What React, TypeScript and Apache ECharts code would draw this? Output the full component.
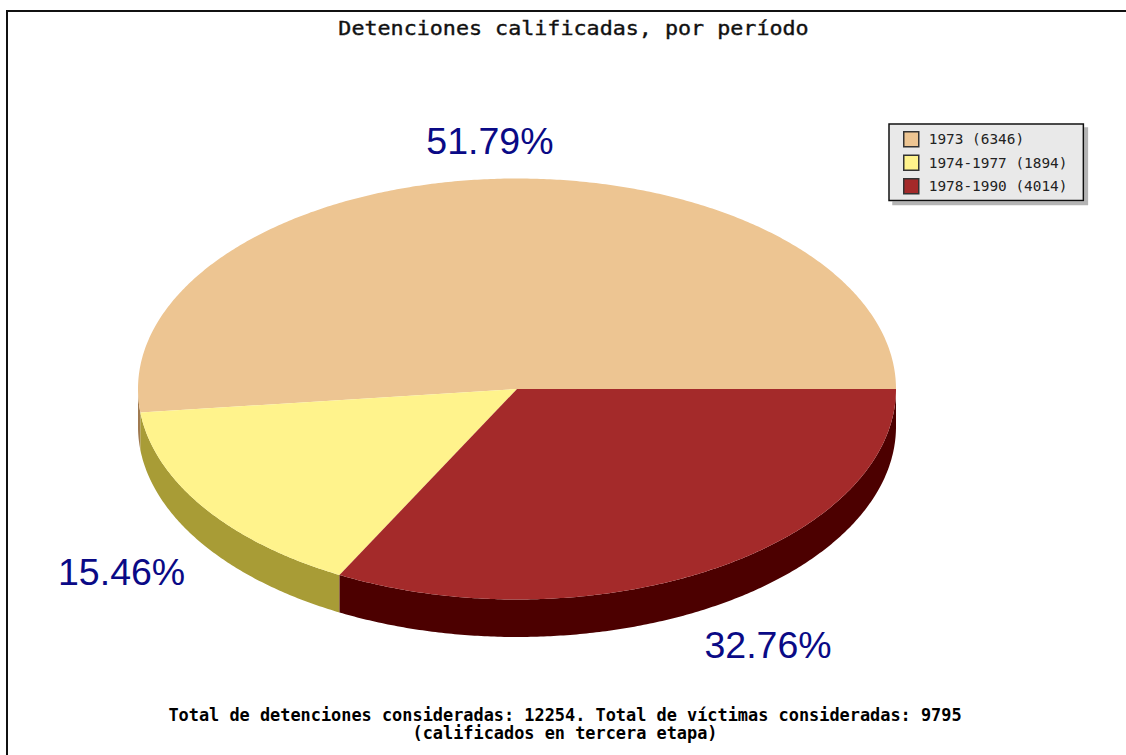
import React, { useEffect, useRef } from "react";
import * as echarts from "echarts";

const titleText = "Detenciones calificadas, por período";
const footerLines = [
  "Total de detenciones consideradas: 12254. Total de víctimas consideradas: 9795",
  "(calificados en tercera etapa)",
];
const periods = ["1973", "1974-1977", "1978-1990"];
const detentions = [6346, 1894, 4014];
const topColors = ["#edc592", "#fff38c", "#a42a2a"];
const sideColors = ["#a07a50", "#a89c36", "#4c0000"];

const W = 1126;
const H = 755;
const CX = 517;
const CY = 389;
const RX = 379;
const RY = 210.5;
const DEPTH = 37.5;
const LABEL_RX = 482;
const LABEL_RY = 252;
const LABEL_NUDGE = [[0, 4], [3, 3.5], [2.5, 2.5]];
const MONO = '"DejaVu Sans Mono", monospace';

const total = detentions.reduce((a, b) => a + b, 0);
const pt = (deg: number, dy = 0): number[] => {
  const a = (deg * Math.PI) / 180;
  return [CX + RX * Math.cos(a), CY - RY * Math.sin(a) + dy];
};

function slice(index: number) {
  return (_params: any, api: any) => {
    const value = api.value(0);
    const before = detentions.slice(0, index).reduce((a, b) => a + b, 0);
    const start = (before / total) * 360;
    const end = start + (value / total) * 360;
    const steps = Math.max(2, Math.ceil((end - start) * 2));
    const rim: number[][] = [];
    for (let i = 0; i <= steps; i++) rim.push(pt(start + ((end - start) * i) / steps));

    const children: any[] = [];
    // Side wall: only the part of the rim on the lower half of the ellipse is visible.
    const sStart = Math.max(start, 180);
    if (end > 180) {
      const top: number[][] = [];
      const n = Math.max(2, Math.ceil((end - sStart) * 2));
      for (let i = 0; i <= n; i++) top.push(pt(sStart + ((end - sStart) * i) / n));
      const bottom = top.map((p) => [p[0], p[1] + DEPTH]).reverse();
      children.push({
        type: "polygon",
        shape: { points: top.concat(bottom) },
        style: { fill: sideColors[index] },
      });
    }
    children.push({
      type: "polygon",
      shape: { points: [[CX, CY], ...rim] },
      style: { fill: topColors[index] },
    });
    const mid = (((start + end) / 2) * Math.PI) / 180;
    const sin = Math.sin(mid);
    children.push({
      type: "text",
      x: CX + LABEL_RX * Math.cos(mid) + LABEL_NUDGE[index][0],
      y: CY - LABEL_RY * sin + (sin < 0 ? DEPTH : 0) + LABEL_NUDGE[index][1],
      style: {
        text: ((value / total) * 100).toFixed(2) + "%",
        fill: "#0a0a86",
        font: '37.5px "Liberation Sans", Arial, sans-serif',
        textAlign: "center",
        textVerticalAlign: "middle",
      },
    });
    return { type: "group", children };
  };
}

export default function App() {
  const ref = useRef<HTMLDivElement>(null);
  useEffect(() => {
    document.body.style.margin = "0";
    const chart = echarts.init(ref.current!, undefined, { renderer: "svg" });
    chart.setOption({
      animation: false,
      backgroundColor: "#ffffff",
      legend: {
        orient: "vertical",
        left: 889,
        top: 124,
        padding: [7, 16, 6, 14],
        itemWidth: 15,
        itemHeight: 15,
        itemGap: 7,
        selectedMode: false,
        backgroundColor: "#e9e9e9",
        borderColor: "#111111",
        borderWidth: 1.5,
        shadowColor: "#b4b4b4",
        shadowOffsetX: 4,
        shadowOffsetY: 4,
        shadowBlur: 0,
        icon: "rect",
        itemStyle: { borderColor: "#333333", borderWidth: 1.5 },
        textStyle: { fontFamily: MONO, fontSize: 14.4, color: "#222222", padding: [0, 0, 0, 5] },
        data: periods.map((p, i) => ({
          name: `${p} (${detentions[i]})`,
          itemStyle: { color: topColors[i] },
        })),
      },
      series: periods.map((p, i) => ({
        type: "custom",
        name: `${p} (${detentions[i]})`,
        coordinateSystem: "none",
        silent: true,
        itemStyle: { color: topColors[i] },
        data: [[detentions[i]]],
        renderItem: slice(i),
      })),
      graphic: [
        { type: "rect", shape: { x: 6, y: 10, width: W - 6, height: 2 }, style: { fill: "#111111" } },
        { type: "rect", shape: { x: 6, y: 10, width: 2, height: H - 10 }, style: { fill: "#111111" } },
        {
          type: "text",
          x: 573.5,
          y: 28.5,
          scaleX: 1.086,
          style: {
            text: titleText,
            fill: "#111111",
            stroke: "#111111",
            lineWidth: 0.4,
            font: `20px ${MONO}`,
            textAlign: "center",
            textVerticalAlign: "middle",
          },
        },
        ...footerLines.map((line, i) => ({
          type: "text",
          x: 565,
          y: 715 + i * 18,
          style: {
            text: line,
            fill: "#000000",
            font: `bold 16.9px ${MONO}`,
            textAlign: "center",
            textVerticalAlign: "middle",
          },
        })),
      ],
    });
    return () => chart.dispose();
  }, []);
  return <div ref={ref} style={{ position: "absolute", left: 0, top: 0, width: W, height: H }} />;
}
